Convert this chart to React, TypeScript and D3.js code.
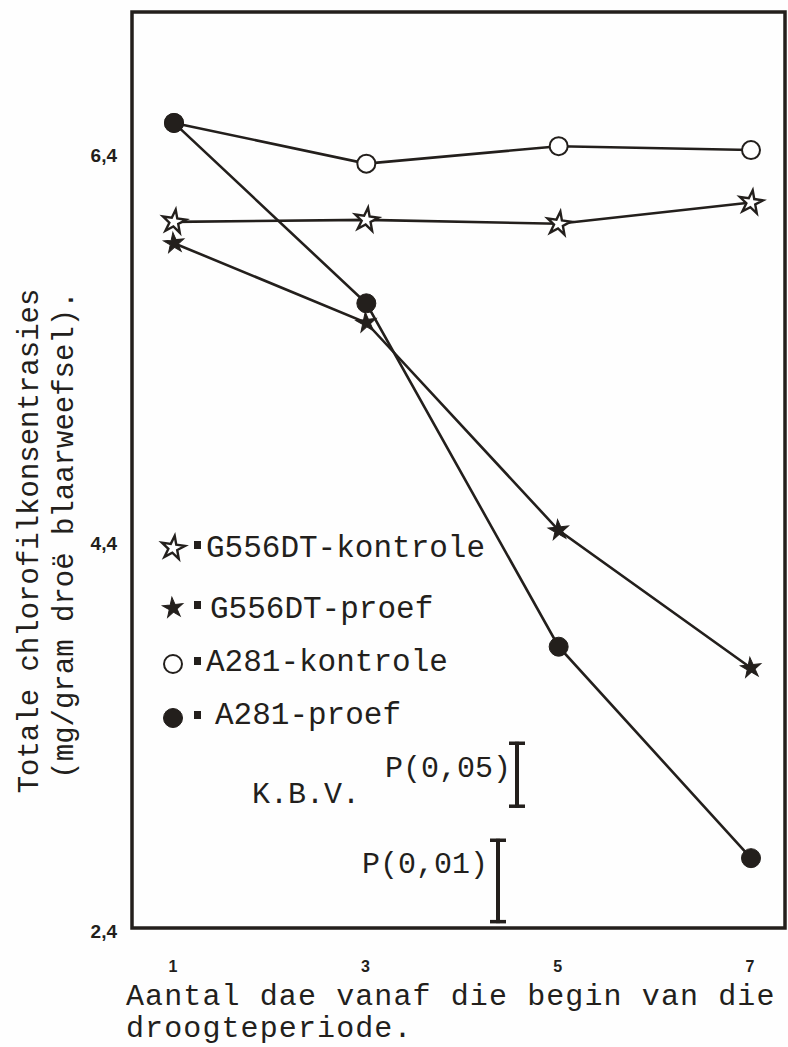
import React from "react";
import * as d3 from "d3";

// days since start of drought period
const days = [1, 3, 5, 7];
const g556Kontrole = [6.04, 6.05, 6.03, 6.14];
const g556Proef = [5.93, 5.52, 4.45, 3.74];
const a281Kontrole = [6.55, 6.34, 6.43, 6.41];
const a281Proef = [6.55, 5.62, 3.85, 2.76];

const yTicks = [2.4, 4.4, 6.4];
const xTicks = [1, 3, 5, 7];

const legendLabels = ["G556DT-kontrole", "G556DT-proef", "A281-kontrole", "A281-proef"];

// K.B.V. bars (least significant difference)
const kbvLabels = ["P(0,05)", "P(0,01)"];
const kbvTop = [3.36, 2.86];
const kbvLength = [0.34, 0.435];

const W = 788;
const H = 1047;
const ink = "#231f1c";
const mono = "'Liberation Mono', 'Courier New', monospace";
const sans = "'Liberation Sans', Arial, sans-serif";

const x = d3.scaleLinear().domain([1, 7]).range([174, 751]);
const y = d3.scaleLinear().domain([2.4, 6.4]).range([928, 152]);

const frame = { left: 132, right: 785, top: 12, bottom: y(2.4) };

type Kind = "starOpen" | "starFilled" | "circleOpen" | "circleFilled";

const series: { values: number[]; kind: Kind }[] = [
  { values: g556Kontrole, kind: "starOpen" },
  { values: g556Proef, kind: "starFilled" },
  { values: a281Kontrole, kind: "circleOpen" },
  { values: a281Proef, kind: "circleFilled" },
];

const starPath = d3.symbol(d3.symbolStar, 170)() as string;
const starSmall = d3.symbol(d3.symbolStar, 130)() as string;

function Marker({ kind, cx, cy }: { kind: Kind; cx: number; cy: number }) {
  if (kind === "starOpen")
    return (
      <path d={starPath} transform={`translate(${cx},${cy}) rotate(8)`} fill="#fff" stroke={ink} strokeWidth={2.4} />
    );
  if (kind === "starFilled")
    return <path d={starSmall} transform={`translate(${cx},${cy}) rotate(-6)`} fill={ink} stroke={ink} strokeWidth={1} />;
  if (kind === "circleOpen")
    return <circle cx={cx} cy={cy} r={9} fill="#fff" stroke={ink} strokeWidth={2} />;
  return <circle cx={cx} cy={cy} r={9.5} fill={ink} stroke={ink} strokeWidth={1} />;
}

const line = d3
  .line<number>()
  .x((_, i) => x(days[i]))
  .y((d) => y(d));

const legendRows = [
  { cy: 548, base: 557, textX: 206 },
  { cy: 608, base: 618, textX: 210 },
  { cy: 664, base: 671, textX: 206 },
  { cy: 718, base: 724, textX: 215 },
];

const kbvLayout = [
  { barX: 517, textRight: 511, base: 777 },
  { barX: 498, textRight: 488, base: 873 },
];

export default function App() {
  return (
    <svg width={W} height={H} style={{ position: "absolute", left: 0, top: 0, background: "#fff" }}>
      <rect width={W} height={H} fill="#fefefe" />

      {/* frame */}
      <rect
        x={frame.left}
        y={frame.top}
        width={frame.right - frame.left}
        height={frame.bottom - frame.top}
        fill="none"
        stroke={ink}
        strokeWidth={3.5}
      />

      {/* y tick labels */}
      {yTicks.map((t) => (
        <text key={t} x={117} y={y(t) + 3} dy="0.36em" textAnchor="end" fontFamily={sans} fontWeight="bold" fontSize={19} fill={ink}>
          {d3.format(".1f")(t).replace(".", ",")}
        </text>
      ))}

      {/* x tick labels */}
      {xTicks.map((t) => (
        <text key={t} x={x(t) - 1} y={972} textAnchor="middle" fontFamily={sans} fontWeight="bold" fontSize={16} fill={ink}>
          {t}
        </text>
      ))}

      {/* series */}
      {series.map((s, i) => (
        <path key={i} d={line(s.values) as string} fill="none" stroke={ink} strokeWidth={2.6} />
      ))}
      {series.map((s, i) =>
        s.values.map((v, j) => <Marker key={`${i}-${j}`} kind={s.kind} cx={x(days[j])} cy={y(v)} />)
      )}

      {/* legend */}
      {series.map((s, i) => (
        <g key={i}>
          <Marker kind={s.kind} cx={173} cy={legendRows[i].cy} />
          <rect x={194} y={legendRows[i].cy - 7} width={7} height={8} fill={ink} />
          <text x={legendRows[i].textX} y={legendRows[i].base} fontFamily={mono} fontSize={31} fill={ink}>
            {legendLabels[i]}
          </text>
        </g>
      ))}

      {/* K.B.V. */}
      <text x={252} y={803} fontFamily={mono} fontSize={30} fill={ink}>
        K.B.V.
      </text>
      {kbvLabels.map((lab, i) => {
        const top = y(kbvTop[i]);
        const bot = y(kbvTop[i] - kbvLength[i]);
        const bx = kbvLayout[i].barX;
        return (
          <g key={lab}>
            <text x={kbvLayout[i].textRight} y={kbvLayout[i].base} textAnchor="end" fontFamily={mono} fontSize={30} fill={ink}>
              {lab}
            </text>
            <line x1={bx} x2={bx} y1={top} y2={bot} stroke={ink} strokeWidth={4} />
            <line x1={bx - 8} x2={bx + 8} y1={top + 1.5} y2={top + 1.5} stroke={ink} strokeWidth={3.5} />
            <line x1={bx - 8} x2={bx + 8} y1={bot - 1.5} y2={bot - 1.5} stroke={ink} strokeWidth={3.5} />
          </g>
        );
      })}

      {/* y axis title */}
      <g transform="translate(28,541) rotate(-90)">
        <text x={0} y={0} dy="0.35em" textAnchor="middle" fontFamily={mono} fontSize={29} fill={ink}>
          Totale chlorofilkonsentrasies
        </text>
      </g>
      <g transform="translate(63,535) rotate(-90)">
        <text x={0} y={0} dy="0.35em" textAnchor="middle" fontFamily={mono} fontSize={29} fill={ink}>
          (mg/gram droë blaarweefsel).
        </text>
      </g>

      {/* x axis title, wrapped over two lines */}
      <text fontFamily={mono} fontSize={30} letterSpacing={1.1} fill={ink}>
        <tspan x={126} y={1005}>
          Aantal dae vanaf die begin van die
        </tspan>
        <tspan x={126} y={1037}>
          droogteperiode.
        </tspan>
      </text>
    </svg>
  );
}
